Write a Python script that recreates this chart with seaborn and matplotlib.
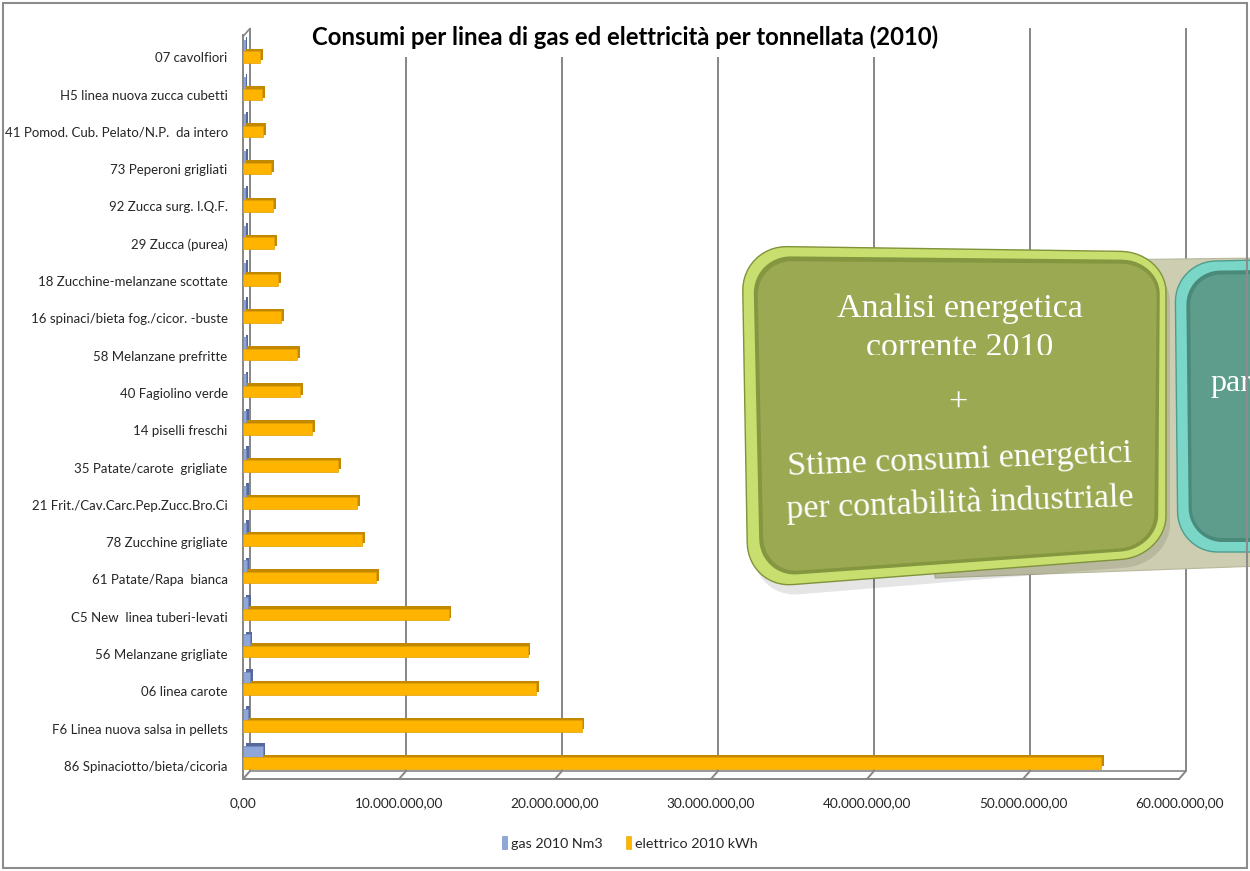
import numpy as np
import pandas as pd
import matplotlib
matplotlib.use("Agg")
import matplotlib.pyplot as plt
import matplotlib.transforms as mtransforms
from matplotlib.patches import Rectangle, Polygon, Patch
import seaborn as sns

# ---------------------------------------------------------------- data
categories = [
    "07 cavolfiori",
    "H5 linea nuova zucca cubetti",
    "41 Pomod. Cub. Pelato/N.P.  da intero",
    "73 Peperoni grigliati",
    "92 Zucca surg. I.Q.F.",
    "29 Zucca (purea)",
    "18 Zucchine-melanzane scottate",
    "16 spinaci/bieta fog./cicor. -buste",
    "58 Melanzane prefritte",
    "40 Fagiolino verde",
    "14 piselli freschi",
    "35 Patate/carote  grigliate",
    "21 Frit./Cav.Carc.Pep.Zucc.Bro.Ci",
    "78 Zucchine grigliate",
    "61 Patate/Rapa  bianca",
    "C5 New  linea tuberi-levati",
    "56 Melanzane grigliate",
    "06 linea carote",
    "F6 Linea nuova salsa in pellets",
    "86 Spinaciotto/bieta/cicoria",
]
gas_2010_nm3 = [
    0.12e6, 0.12e6, 0.13e6, 0.14e6, 0.14e6, 0.15e6, 0.16e6, 0.16e6, 0.18e6, 0.18e6,
    0.20e6, 0.20e6, 0.20e6, 0.22e6, 0.24e6, 0.33e6, 0.42e6, 0.47e6, 0.32e6, 1.25e6,
]
elettrico_2010_kwh = [
    1.10e6, 1.22e6, 1.30e6, 1.80e6, 1.93e6, 2.00e6, 2.25e6, 2.45e6, 3.47e6, 3.66e6,
    4.45e6, 6.10e6, 7.33e6, 7.65e6, 8.55e6, 13.2e6, 18.25e6, 18.8e6, 21.7e6, 55.0e6,
]
series_labels = ["gas 2010 Nm3", "elettrico 2010 kWh"]
x_ticks = [0, 10e6, 20e6, 30e6, 40e6, 50e6, 60e6]
title = "Consumi per linea di gas ed elettricità per tonnellata (2010)"

# ---------------------------------------------------------------- style
sns.set_style("white")
plt.rcParams["font.family"] = ["Lato", "DejaVu Sans"]

W, H = 1250, 871
fig = plt.figure(figsize=(W / 100, H / 100), dpi=100, facecolor="white")

GRID = "#868686"
ORANGE, ORANGE_EDGE, ORANGE_DK = "#FFB400", "#E3A000", "#C28800"
BLUE, BLUE_EDGE, BLUE_DK = "#8FA6D8", "#7088BC", "#56699A"

# pixel geometry of the front plane
x0_px, x1_px = 243, 1179
y0_px, y1_px = 35, 779
depth = (7, 8)  # back wall offset in px (right, up)

ax = fig.add_axes([x0_px / W, 1 - y1_px / H, (x1_px - x0_px) / W, (y1_px - y0_px) / H], zorder=1)
ax.set_facecolor("none")

df = pd.DataFrame({
    "categoria": categories * 2,
    "serie": [series_labels[0]] * len(categories) + [series_labels[1]] * len(categories),
    "valore": gas_2010_nm3 + elettrico_2010_kwh,
})

sns.barplot(data=df, y="categoria", x="valore", hue="serie", order=categories,
            hue_order=series_labels, palette=[BLUE, ORANGE], saturation=1, orient="h",
            width=0.62, gap=0, linewidth=0, edgecolor="none", legend=False,
            ax=ax, zorder=3)

ax.set_xlim(0, 60e6)
ylo, yhi = 19.58, -0.4
ax.set_ylim(ylo, yhi)

# 3D look: darker copy of each bar pushed back and up
off = mtransforms.ScaledTranslation(0.025, 0.025, fig.dpi_scale_trans)
for p in list(ax.patches):
    fc = p.get_facecolor()
    is_blue = fc[2] > fc[0]
    sh = Rectangle(p.get_xy(), p.get_width(), p.get_height(),
                   transform=ax.transData + off,
                   facecolor=BLUE_DK if is_blue else ORANGE_DK,
                   edgecolor="none", zorder=2.5)
    ax.add_patch(sh)
    p.set_edgecolor(BLUE_EDGE if is_blue else ORANGE_EDGE)
    p.set_linewidth(0.5)

# axes cosmetics
def it_fmt(v):
    s = f"{v:,.2f}"
    return s.replace(",", "X").replace(".", ",").replace("X", ".")

ax.set_xticks(x_ticks)
ax.set_xticklabels([it_fmt(v) for v in x_ticks], fontsize=9.8)
ax.set_yticks(np.arange(len(categories)) * 1.0035 + 0.16)
ax.set_yticklabels(categories, fontsize=9.5)
ax.set_yticks(np.arange(-1, len(categories)) + 0.56, minor=True)
ax.tick_params(axis="y", which="major", length=0, pad=11)
ax.tick_params(axis="y", which="minor", length=6, width=1.2, color=GRID, direction="out")
ax.tick_params(axis="x", length=4, width=1.2, color=GRID, direction="out", pad=9)
ax.set_xlabel("")
ax.set_ylabel("")
for side in ("top", "right"):
    ax.spines[side].set_visible(False)
for side in ("left", "bottom"):
    ax.spines[side].set_color(GRID)
    ax.spines[side].set_linewidth(1.4)

# ---------------------------------------------------------------- back walls
bg = fig.add_axes([0, 0, 1, 1], zorder=0)
bg.set_xlim(0, W)
bg.set_ylim(H, 0)
bg.axis("off")

def to_px(x, y):
    px, py = ax.transData.transform((x, y))
    return px, H - py

for v in x_ticks:
    fx, fy = to_px(v, ylo)
    tx, ty = to_px(v, yhi)
    bx, by = fx + depth[0], fy - depth[1]
    bg.plot([bx, bx], [by, ty - depth[1]], color=GRID, lw=1.4, solid_capstyle="butt")
    bg.plot([fx, bx], [fy, by], color=GRID, lw=1.4)
fx0, fy0 = to_px(0, ylo)
fx1, _ = to_px(60e6, ylo)
bg.plot([fx0 + depth[0], fx1 + depth[0]], [fy0 - depth[1]] * 2, color=GRID, lw=1.2)
tx0, ty0 = to_px(0, yhi)
bg.plot([tx0, tx0 + depth[0]], [ty0, ty0 - depth[1]], color=GRID, lw=1.2)

# ---------------------------------------------------------------- overlay shapes
fg = fig.add_axes([0, 0, 1, 1], zorder=5)
fg.set_xlim(0, W)
fg.set_ylim(H, 0)
fg.axis("off")
fg.patch.set_alpha(0)

def rounded_quad(corners, r_px, n=14):
    tl, tr, br, bl = [np.asarray(c, float) for c in corners]
    w = np.linalg.norm(tr - tl)
    h = np.linalg.norm(bl - tl)
    ru, rv = r_px / w, r_px / h
    arcs = [((ru, rv), 180, 270), ((1 - ru, rv), 270, 360),
            ((1 - ru, 1 - rv), 0, 90), ((ru, 1 - rv), 90, 180)]
    uv = []
    for (cu, cv), a0, a1 in arcs:
        t = np.radians(np.linspace(a0, a1, n))
        uv.extend(zip(cu + ru * np.cos(t), cv + rv * np.sin(t)))
    uv = np.array(uv)
    u, v = uv[:, :1], uv[:, 1:]
    return (1 - u) * (1 - v) * tl + u * (1 - v) * tr + u * v * br + (1 - u) * v * bl

def shape(corners, r, fc, ec="none", lw=0, z=1, alpha=1):
    fg.add_patch(Polygon(rounded_quad(corners, r), closed=True, facecolor=fc,
                         edgecolor=ec, linewidth=lw, zorder=z, alpha=alpha))

# connecting band behind the boxes
fg.add_patch(Polygon([(935, 262), (1260, 258), (1260, 566), (935, 578)], closed=True,
                     facecolor="#CDCDB2", edgecolor="#B8B89C", lw=0.8, zorder=1))
# soft shadow under the green box
shape([(748, 256), (1170, 262), (1170, 564), (754, 598)], 45, "#000000", z=1.5, alpha=0.10)
# green box: outer rim, bevel edge, inner panel
shape([(742, 246), (1166, 252), (1166, 556), (748, 588)], 45, "#C8DF70", "#80923A", 1.0, z=2)
shape([(753, 256), (1160, 260), (1158, 549), (760, 577)], 38, "#849640", z=3)
shape([(757, 261), (1157, 264), (1154, 546), (764, 573)], 35, "#9BAA52", z=4)
# teal box
shape([(1175, 262), (1340, 258), (1340, 552), (1178, 552)], 40, "#7AD7C8", "#4E9C8E", 1.0, z=2)
shape([(1186, 271), (1340, 269), (1340, 542), (1189, 542)], 34, "#4A8A7B", z=3)
shape([(1190, 275), (1340, 273), (1340, 538), (1192, 538)], 30, "#5E9D8C", z=4)

serif = ["Liberation Serif", "DejaVu Serif"]
txt_kw = dict(color="white", family=serif, fontsize=24.5, ha="center", va="center", zorder=6)
fg.text(960, 309, "Analisi energetica", **txt_kw)
t2 = fg.text(960, 348, "corrente 2010", **txt_kw)
t2.set_clip_box(mtransforms.TransformedBbox(mtransforms.Bbox.from_extents(0, 0, W, 355), fg.transData))
t2.set_clip_on(True)
fg.text(958, 403, "+", **txt_kw)
fg.text(960, 460, "Stime consumi energetici", rotation=2.2, rotation_mode="anchor", **txt_kw)
fg.text(960, 503, "per contabilità industriale", rotation=2.0, rotation_mode="anchor", **txt_kw)
fg.text(1210, 383, "par", color="white", family=serif, fontsize=23, ha="left", va="center", zorder=6)

# title on a white band
fg.text(625, 37, title, fontsize=17.2, fontweight="bold", ha="center", va="center", zorder=6,
        color="black", bbox=dict(boxstyle="square,pad=0.35", facecolor="white", edgecolor="none"))

# legend
handles = [Patch(facecolor=BLUE, edgecolor=BLUE_EDGE, linewidth=0.4),
           Patch(facecolor=ORANGE, edgecolor=ORANGE_EDGE, linewidth=0.4)]
fig.legend(handles, series_labels, loc="center", bbox_to_anchor=(630 / W, 1 - 843 / H),
           ncol=2, frameon=False, fontsize=10.3, handlelength=0.35, handleheight=1.0,
           handletextpad=0.3, columnspacing=1.6)

# outer chart frame
fig.add_artist(Rectangle((3 / W, 3 / H), (W - 6) / W, (H - 6) / H, transform=fig.transFigure,
                         fill=False, edgecolor="#8C8C8C", linewidth=1.5, zorder=10))

fig.savefig("out.png", dpi=100, facecolor="white")
